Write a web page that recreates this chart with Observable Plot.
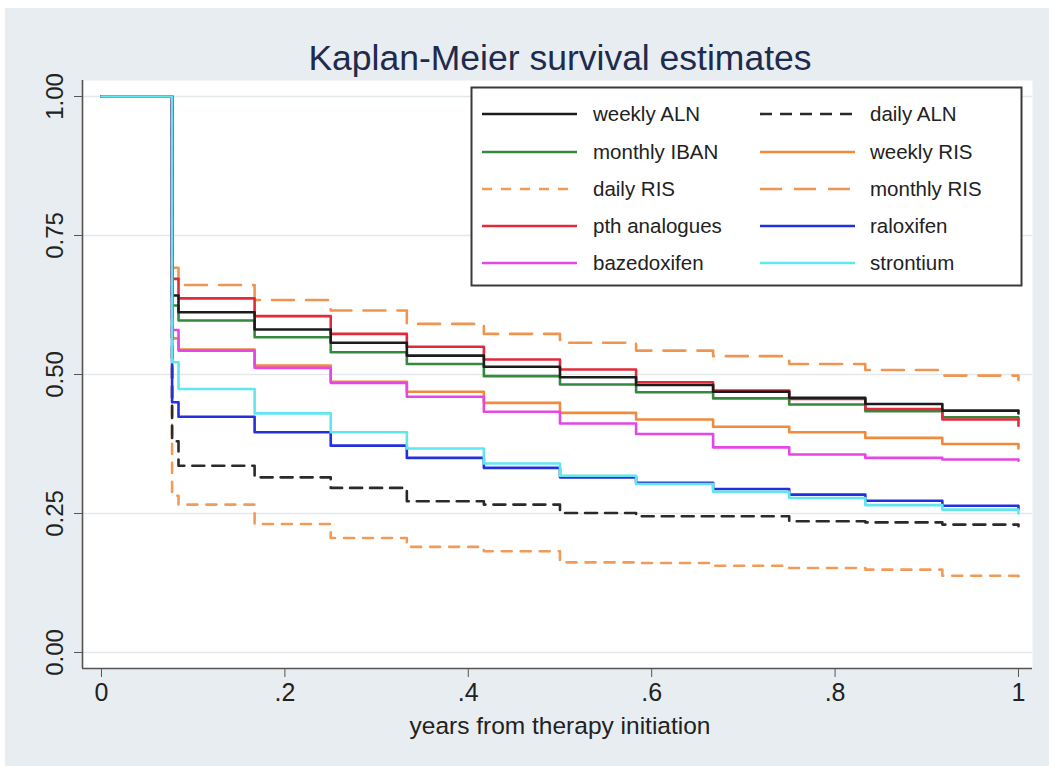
<!DOCTYPE html>
<html>
<head>
<meta charset="utf-8">
<script src="https://cdn.jsdelivr.net/npm/d3@7"></script>
<script src="https://cdn.jsdelivr.net/npm/@observablehq/plot@0.6"></script>
<style>
html, body { margin: 0; padding: 0; background: #ffffff; }
#wrap { position: relative; width: 1049px; height: 766px; overflow: hidden;
  font-family: "Liberation Sans", Arial, Helvetica, sans-serif; }
#bg { position: absolute; left: 5px; top: 8px; right: 0; bottom: 0; background: #e7edf1; }
#title { position: absolute; left: 60px; width: 1000px; top: 40px; text-align: center;
  font-size: 35.5px; line-height: 36px; color: #1e2b4c; white-space: nowrap; }
#xlabel { position: absolute; left: 60px; width: 1000px; top: 713px; text-align: center;
  font-size: 24.5px; line-height: 25px; color: #222; white-space: nowrap; }
#chart { position: absolute; left: 0; top: 0; }
#legend { position: absolute; left: 0; top: 0; }
</style>
</head>
<body>
<div id="wrap">
  <div id="bg"></div>
  <div id="chart"></div>
  <div id="title">Kaplan-Meier survival estimates</div>
  <div id="xlabel">years from therapy initiation</div>
  <div id="legend"></div>
</div>
<script>
// ---- data ----
const times = [0, 0.077, 0.084, 0.167, 0.25, 0.333, 0.417, 0.5, 0.583, 0.667, 0.75, 0.833, 0.917, 1.0];

const weeklyALN   = [1, 0.642, 0.612, 0.581, 0.557, 0.534, 0.514, 0.495, 0.481, 0.469, 0.458, 0.447, 0.435, 0.430];
const dailyALN    = [1, 0.380, 0.336, 0.315, 0.296, 0.272, 0.266, 0.251, 0.245, 0.245, 0.236, 0.234, 0.230, 0.227];
const monthlyIBAN = [1, 0.624, 0.597, 0.567, 0.540, 0.519, 0.497, 0.482, 0.468, 0.457, 0.446, 0.434, 0.423, 0.420];
const weeklyRIS   = [1, 0.565, 0.545, 0.516, 0.487, 0.469, 0.449, 0.431, 0.419, 0.406, 0.396, 0.386, 0.375, 0.367];
const dailyRIS    = [1, 0.282, 0.266, 0.231, 0.206, 0.190, 0.182, 0.162, 0.161, 0.156, 0.152, 0.149, 0.138, 0.136];
const monthlyRIS  = [1, 0.692, 0.661, 0.634, 0.615, 0.591, 0.573, 0.557, 0.543, 0.533, 0.519, 0.508, 0.498, 0.490];
const pthAnalogues= [1, 0.672, 0.637, 0.605, 0.573, 0.550, 0.527, 0.509, 0.486, 0.471, 0.456, 0.438, 0.419, 0.408];
const raloxifen   = [1, 0.450, 0.424, 0.396, 0.372, 0.350, 0.332, 0.315, 0.305, 0.294, 0.284, 0.273, 0.264, 0.258];
const bazedoxifen = [1, 0.580, 0.543, 0.512, 0.485, 0.460, 0.433, 0.412, 0.393, 0.369, 0.356, 0.350, 0.347, 0.345];
const strontium   = [1, 0.522, 0.474, 0.430, 0.396, 0.367, 0.340, 0.318, 0.303, 0.289, 0.278, 0.265, 0.257, 0.250];

const seriesNames  = ["weekly ALN", "daily ALN", "monthly IBAN", "weekly RIS", "daily RIS",
                      "monthly RIS", "pth analogues", "raloxifen", "bazedoxifen", "strontium"];
const seriesValues = [weeklyALN, dailyALN, monthlyIBAN, weeklyRIS, dailyRIS,
                      monthlyRIS, pthAnalogues, raloxifen, bazedoxifen, strontium];

const xTicks = [0, 0.2, 0.4, 0.6, 0.8, 1];
const xTickLabels = ["0", ".2", ".4", ".6", ".8", "1"];
const yTicks = [0, 0.25, 0.5, 0.75, 1];
const yTickLabels = ["0.00", "0.25", "0.50", "0.75", "1.00"];

// ---- styles ----
const styles = {
  "weekly ALN":    {stroke: "#1c1c1c", dash: null},
  "daily ALN":     {stroke: "#2a2a2a", dash: "12,8"},
  "monthly IBAN":  {stroke: "#34893c", dash: null},
  "weekly RIS":    {stroke: "#f08a3e", dash: null},
  "daily RIS":     {stroke: "#f29a58", dash: "10,9"},
  "monthly RIS":   {stroke: "#ef9550", dash: "22,12"},
  "pth analogues": {stroke: "#e22a3a", dash: null},
  "raloxifen":     {stroke: "#2430dc", dash: null},
  "bazedoxifen":   {stroke: "#e546e6", dash: null},
  "strontium":     {stroke: "#5fe6ef", dash: null}
};
const drawOrder = ["daily RIS", "monthly RIS", "weekly RIS", "daily ALN", "monthly IBAN",
                   "pth analogues", "weekly ALN", "bazedoxifen", "raloxifen", "strontium"];

const rows = [];
seriesNames.forEach((name, k) => {
  seriesValues[k].forEach((v, i) => rows.push({series: name, t: times[i], s: v}));
});

const xDomain = [-0.0207, 1.0153];
const yDomain = [-0.0288, 1.0288];

const lineMarks = drawOrder.map(name => Plot.line(rows.filter(r => r.series === name), {
  x: "t", y: "s", curve: "step-after",
  stroke: styles[name].stroke, strokeWidth: 2.6,
  strokeDasharray: styles[name].dash
}));

const chart = Plot.plot({
  width: 1049, height: 766,
  marginLeft: 82, marginRight: 17, marginTop: 80, marginBottom: 98,
  style: {background: "transparent", fontFamily: "'Liberation Sans', Arial, Helvetica, sans-serif", color: "#222"},
  x: {domain: xDomain},
  y: {domain: yDomain},
  marks: [
    Plot.frame({fill: "white", stroke: null}),
    Plot.gridY(yTicks, {stroke: "#e3e8eb", strokeOpacity: 1, strokeWidth: 1.5}),
    ...lineMarks,
    Plot.ruleX([xDomain[0]], {stroke: "#555", strokeWidth: 1.6}),
    Plot.ruleY([yDomain[0]], {stroke: "#555", strokeWidth: 1.6}),
    Plot.axisX(xTicks, {tickFormat: (d, i) => xTickLabels[i], tickSize: 9, tickPadding: 6,
      fontSize: 25, stroke: "#555", label: null, color: "#222"}),
    Plot.axisY(yTicks, {tickFormat: (d, i) => yTickLabels[i], tickSize: 8, tickPadding: 12,
      tickRotate: -90, fontSize: 24, stroke: "#555", label: null, color: "#222"})
  ]
});
document.getElementById("chart").appendChild(chart);

// ---- legend ----
const lg = d3.select("#legend").append("svg").attr("width", 1049).attr("height", 766)
  .style("position", "absolute").style("left", 0).style("top", 0);
lg.append("rect").attr("x", 471.5).attr("y", 87.5).attr("width", 550).attr("height", 198)
  .attr("fill", "white").attr("stroke", "#3a3a3a").attr("stroke-width", 2);
const rowY = [114, 152, 189, 226, 263];
const colLine = [[482, 577], [760, 855]];
const colText = [593, 870];
seriesNames.forEach((name, k) => {
  const r = Math.floor(k / 2), c = k % 2;
  lg.append("line").attr("x1", colLine[c][0]).attr("x2", colLine[c][1])
    .attr("y1", rowY[r]).attr("y2", rowY[r])
    .attr("stroke", styles[name].stroke).attr("stroke-width", 2.6)
    .attr("stroke-dasharray", styles[name].dash);
  lg.append("text").attr("x", colText[c]).attr("y", rowY[r] + 7)
    .attr("font-size", 20.5).attr("fill", "#222")
    .attr("font-family", "'Liberation Sans', Arial, Helvetica, sans-serif")
    .text(name);
});
</script>
</body>
</html>
